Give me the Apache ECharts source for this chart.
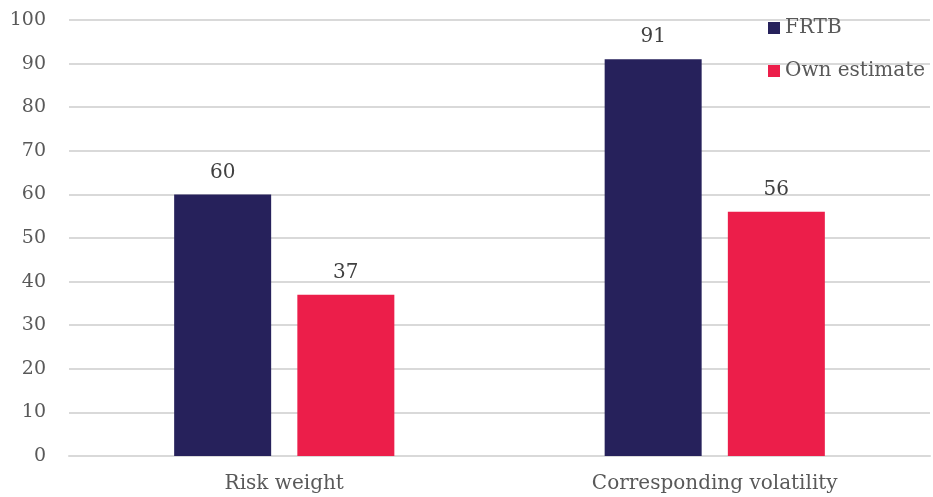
<!DOCTYPE html>
<html><head><meta charset="utf-8">
<script src="https://cdn.jsdelivr.net/npm/echarts@6/dist/echarts.min.js"></script>
<style>html,body{margin:0;padding:0;background:#fff}#c{width:933px;height:497px}</style>
</head><body><div id="c"></div>
<script>
const categories = ["Risk weight", "Corresponding volatility"];
const frtb = [60, 91];
const ownEstimate = [37, 56];
const seriesNames = ["FRTB", "Own estimate"];
const FONT = "DejaVu Serif";
const chart = echarts.init(document.getElementById('c'));
chart.setOption({
  animation: false,
  textStyle: {fontFamily: FONT},
  grid: {left: 69, right: 3, top: 20, bottom: 41, containLabel: false},
  legend: {
    orient: 'vertical', left: 768, top: 18, padding: 0, itemWidth: 12, itemHeight: 12, itemGap: 23,
    icon: 'rect',
    textStyle: {fontFamily: FONT, fontSize: 20, color: '#595959'},
    data: seriesNames
  },
  xAxis: {
    type: 'category', data: categories,
    axisLine: {lineStyle: {color: '#D9D9D9', width: 2}},
    axisTick: {show: false},
    axisLabel: {fontFamily: FONT, fontSize: 20, color: '#595959', margin: 18}
  },
  yAxis: {
    type: 'value', min: 0, max: 100, interval: 10,
    axisLine: {show: false}, axisTick: {show: false},
    splitLine: {lineStyle: {color: '#D9D9D9', width: 2}},
    axisLabel: {fontFamily: FONT, fontSize: 19, color: '#595959', margin: 23}
  },
  series: [
    {name: seriesNames[0], type: 'bar', data: frtb, barWidth: 97, barGap: '27%',
     itemStyle: {color: '#26215B'},
     label: {show: true, position: 'top', distance: 12, fontFamily: FONT, fontSize: 20, color: '#404040'}},
    {name: seriesNames[1], type: 'bar', data: ownEstimate, barWidth: 97,
     itemStyle: {color: '#EC1E4A'},
     label: {show: true, position: 'top', distance: 12, fontFamily: FONT, fontSize: 20, color: '#404040'}}
  ]
});
</script></body></html>
